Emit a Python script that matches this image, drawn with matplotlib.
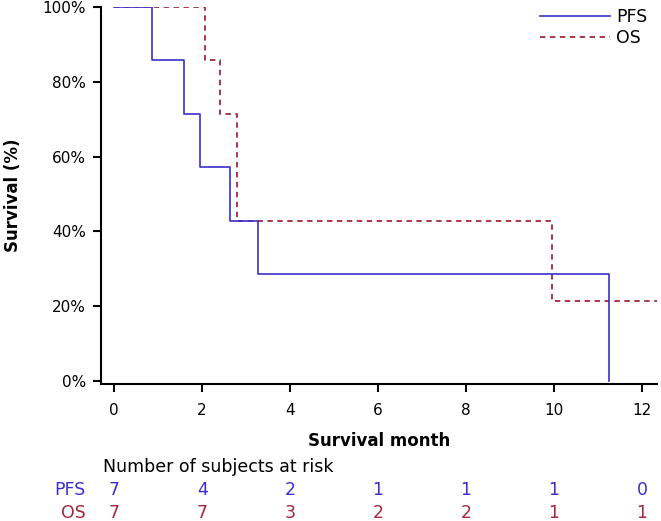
import matplotlib
matplotlib.use('Agg')
import matplotlib.pyplot as plt
from matplotlib.ticker import FuncFormatter
from matplotlib.transforms import blended_transform_factory

# Kaplan-Meier step data (months, survival %)
pfs_time = [0, 0.87, 1.59, 1.94, 2.64, 3.28, 11.24]
pfs_surv = [100, 85.7, 71.4, 57.1, 42.9, 28.6, 0]
os_time = [0, 2.07, 2.40, 2.80, 9.95, 12.34]
os_surv = [100, 85.7, 71.4, 42.9, 21.4, 21.4]

# at-risk table
risk_times = [0, 2, 4, 6, 8, 10, 12]
pfs_risk = [7, 4, 2, 1, 1, 1, 0]
os_risk = [7, 7, 3, 2, 2, 1, 1]

blue = '#3b2fd0'
red = '#a3283d'

plt.rcParams['font.family'] = 'DejaVu Sans'
plt.rcParams['font.size'] = 11

fig = plt.figure(figsize=(6.61, 5.21), dpi=100)
ax = fig.add_axes([101 / 661, 1 - 384 / 521, 556 / 661, 377 / 521])

ax.step(os_time, os_surv, where='post', color=red, lw=1.3,
        linestyle=(0, (3.0, 2.5)), label='OS')
ax.step(pfs_time, pfs_surv, where='post', color=blue, lw=1.2, label='PFS')

ax.set_xlim(-0.3, 12.34)
ax.set_ylim(-0.8, 100)
ax.set_xticks(risk_times)
ax.set_yticks([0, 20, 40, 60, 80, 100])
ax.yaxis.set_major_formatter(FuncFormatter(lambda v, p: '%d%%' % v))

for s in ['top', 'right']:
    ax.spines[s].set_visible(False)
for s in ['left', 'bottom']:
    ax.spines[s].set_linewidth(1.5)
ax.tick_params(axis='both', width=1.5, length=5.8, labelsize=11)
ax.tick_params(axis='y', pad=5)
ax.tick_params(axis='x', pad=8)

ax.set_xlabel('Survival month', fontweight='bold', fontsize=12, labelpad=10)
ax.set_ylabel('Survival (%)', fontweight='bold', fontsize=12, labelpad=15)

handles, labels = ax.get_legend_handles_labels()
ax.legend(handles[::-1], labels[::-1], loc='upper right',
          bbox_to_anchor=(647 / 661, 1 - 8 / 521),
          bbox_transform=fig.transFigure, frameon=False, handlelength=4.0,
          handletextpad=0.35, labelspacing=0.15, borderaxespad=0, borderpad=0,
          fontsize=12.5)

# number at risk below the axis
tr = blended_transform_factory(ax.transData, fig.transFigure)
fig.text(103 / 661, 1 - 467 / 521, 'Number of subjects at risk',
         ha='left', va='center', fontsize=12.5)
fig.text(86 / 661, 1 - 490 / 521, 'PFS', color=blue, ha='right',
         va='center', fontsize=12.5)
fig.text(86 / 661, 1 - 513 / 521, 'OS', color=red, ha='right',
         va='center', fontsize=12.5)
for t, p, o in zip(risk_times, pfs_risk, os_risk):
    ax.text(t, 1 - 490 / 521, str(p), color=blue, ha='center', va='center',
            transform=tr, fontsize=12.5)
    ax.text(t, 1 - 513 / 521, str(o), color=red, ha='center', va='center',
            transform=tr, fontsize=12.5)

fig.savefig('out.png', dpi=100)
